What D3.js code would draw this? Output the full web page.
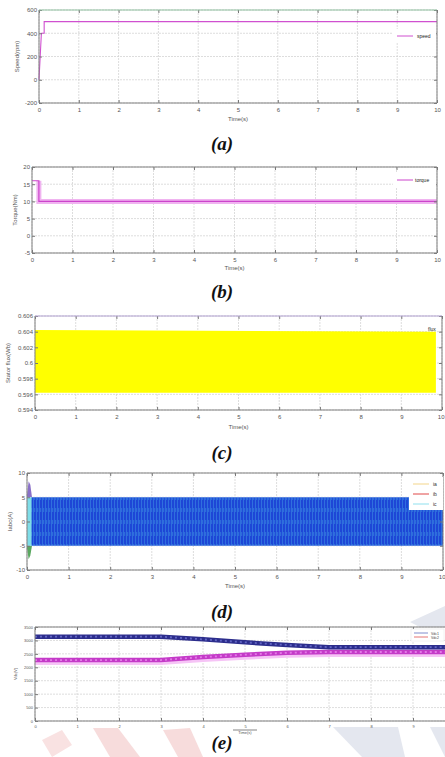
<!DOCTYPE html>
<html>
<head>
<meta charset="utf-8">
<script src="https://cdn.jsdelivr.net/npm/d3@7"></script>
<style>
  body { margin: 0; background: #fff; }
  svg { display: block; }
  text { font-family: "Liberation Sans", Arial, sans-serif; }
  .cap { font-family: "Liberation Serif", "Times New Roman", serif; font-weight: bold; font-style: italic; font-size: 19px; fill: #111; }
  .tick text { font-size: 6px; fill: #555; }
  .lbl { font-size: 6px; fill: #555; }
</style>
</head>
<body>
<svg id="chart" width="445" height="757"></svg>
<script>
// shared x ticks (time, s)
const timeTicks = [0, 1, 2, 3, 4, 5, 6, 7, 8, 9, 10];
const timeTicksE = [0, 1, 2, 3, 4, 5, 6, 7, 8, 9];

// (a) rotor speed
const speedT = [0, 0.03, 0.06, 0.13, 0.13, 10];
const speedV = [0, 200, 400, 400, 500, 500];
const speedTicks = [-200, 0, 200, 400, 600];

// (b) electromagnetic torque
const torqueT = [0, 0.02, 0.17, 0.17, 10];
const torqueV = [16, 16, 16, 10, 10];
const torqueTicks = [-5, 0, 5, 10, 15, 20];

// (c) stator flux envelope
const fluxT = [0, 9.85];
const fluxHi = [0.6042, 0.6040];
const fluxLo = [0.5962, 0.5962];
const fluxTicks = [0.594, 0.596, 0.598, 0.6, 0.602, 0.604, 0.606];

// (d) three-phase currents envelope + start transient
const iabcT = [0.11, 10];
const iabcHi = [5, 5];
const iabcLo = [-5, -5];
const transT = [0, 0.04, 0.08, 0.12];
const transHi = [5.5, 8.3, 7.6, 5];
const transLo = [-5.5, -7.8, -7, -5];
const currentTicks = [-10, -5, 0, 5, 10];
const currentNames = ['ia', 'ib', 'ic'];

// (e) two converging signals
const vdcT = [0, 1, 2, 3, 4, 5, 6, 7, 8, 9, 10];
const vdcBlue = [3140, 3140, 3140, 3140, 3040, 2930, 2830, 2750, 2750, 2750, 2750];
const vdcPink = [2270, 2270, 2270, 2270, 2380, 2470, 2540, 2570, 2570, 2570, 2570];
const vdcTicks = [0, 500, 1000, 1500, 2000, 2500, 3000, 3500];

const svg = d3.select('#chart');

// faint watermark shapes behind everything
const wm = svg.append('g');
wm.append('polygon').attr('points', '333,727 398,727 405,757 362,757').attr('fill', '#e4e7ef');
wm.append('polygon').attr('points', '410,622 445,606 445,640').attr('fill', '#e4e7ef');
wm.append('polygon').attr('points', '430,727 445,727 445,757').attr('fill', '#e4e7ef');
wm.append('polygon').attr('points', '42,740 62,730 72,745 52,757').attr('fill', '#f9e2e2');
wm.append('polygon').attr('points', '93,728 118,728 140,757 110,757').attr('fill', '#f7dcdc');
wm.append('polygon').attr('points', '163,730 190,728 203,757 178,757').attr('fill', '#f7dcdc');

function panel(o) {
  const g = svg.append('g');
  const x = d3.scaleLinear().domain([0, 10]).range([o.left, o.right]);
  const y = d3.scaleLinear().domain(o.yDomain).range([o.bottom, o.top]);
  const w = Math.min(o.right, 445) - o.left;

  g.append('rect').attr('x', o.left).attr('y', o.top)
    .attr('width', w).attr('height', o.bottom - o.top).attr('fill', '#fff');

  // grid
  g.append('g').selectAll('line').data(o.xTicks).join('line')
    .attr('x1', d => x(d)).attr('x2', d => x(d))
    .attr('y1', o.top).attr('y2', o.bottom)
    .attr('stroke', '#cfcfcf').attr('stroke-width', 0.7).attr('stroke-dasharray', '2,1');
  g.append('g').selectAll('line').data(o.yTicks).join('line')
    .attr('x1', o.left).attr('x2', o.left + w)
    .attr('y1', d => y(d)).attr('y2', d => y(d))
    .attr('stroke', '#cfcfcf').attr('stroke-width', 0.7).attr('stroke-dasharray', '2,1');

  const marks = g.append('g');

  // axes, MATLAB style inward ticks
  const ax = g.append('g');
  const bottom = ax.append('g').attr('transform', `translate(0,${o.bottom})`)
    .call(d3.axisBottom(x).tickValues(o.xTicks).tickSize(-3).tickPadding(o.xPad || 5)
      .tickFormat(o.xFormat || d3.format('d')));
  ax.append('g').attr('transform', `translate(0,${o.top})`)
    .call(d3.axisTop(x).tickValues(o.xTicks).tickSize(-3).tickFormat(''));
  ax.append('g').attr('transform', `translate(${o.left},0)`)
    .call(d3.axisLeft(y).tickValues(o.yTicks).tickSize(-3).tickPadding(2)
      .tickFormat(o.yFormat || (d => d)));
  if (o.right <= 445) {
    ax.append('g').attr('transform', `translate(${o.right},0)`)
      .call(d3.axisRight(y).tickValues(o.yTicks).tickSize(-3).tickFormat(''));
  }
  ax.selectAll('.domain').remove();
  ax.selectAll('.tick line').attr('stroke', '#777');
  if (o.tickFont) ax.selectAll('.tick text').style('font-size', o.tickFont);
  // keep a label that sits on the right edge inside the page
  bottom.selectAll('.tick text').filter(d => x(d) > 440).attr('text-anchor', 'end').attr('dx', 2);

  // frame
  const fr = g.append('g').attr('fill', 'none').attr('stroke', '#808080').attr('stroke-width', 1);
  fr.append('line').attr('x1', o.left).attr('x2', o.left).attr('y1', o.top).attr('y2', o.bottom);
  fr.append('line').attr('x1', o.left).attr('x2', o.left + w).attr('y1', o.bottom).attr('y2', o.bottom);
  fr.append('line').attr('x1', o.left).attr('x2', o.left + w).attr('y1', o.top).attr('y2', o.top)
    .attr('stroke', o.topColor || '#808080');
  if (o.right <= 445) {
    fr.append('line').attr('x1', o.right).attr('x2', o.right).attr('y1', o.top).attr('y2', o.bottom);
  }

  // labels
  g.append('text').attr('class', 'lbl').attr('text-anchor', 'middle')
    .attr('x', o.xLabelX || (o.left + o.right) / 2).attr('y', o.xLabelY)
    .style('font-size', o.tickFont || null)
    .text('Time(s)');
  g.append('text').attr('class', 'lbl').attr('text-anchor', 'middle')
    .attr('transform', `translate(${o.yLabelX},${(o.top + o.bottom) / 2}) rotate(-90)`)
    .style('font-size', o.tickFont || null)
    .text(o.yLabel);
  g.append('text').attr('class', 'cap').attr('text-anchor', 'middle')
    .attr('x', 222).attr('y', o.capY).text(o.cap);

  return { g, marks, x, y };
}

// ---------- (a) ----------
{
  const p = panel({ left: 39, right: 437, top: 10, bottom: 103, yDomain: [-200, 600],
    xTicks: timeTicks, yTicks: speedTicks, xLabelY: 121, yLabelX: 19, yLabel: 'Speed(rpm)',
    cap: '(a)', capY: 150, topColor: '#8fbf9f' });
  p.marks.append('path').datum(speedT.map((t, i) => [t, speedV[i]]))
    .attr('d', d3.line().x(d => p.x(d[0])).y(d => p.y(d[1])))
    .attr('fill', 'none').attr('stroke', '#d050d0').attr('stroke-width', 1.1);
  const lg = p.g.append('g');
  lg.append('rect').attr('x', 393).attr('y', 29).attr('width', 43).attr('height', 14).attr('fill', '#fff');
  lg.append('line').attr('x1', 397).attr('x2', 413).attr('y1', 36).attr('y2', 36)
    .attr('stroke', '#d050d0').attr('stroke-width', 1);
  lg.append('text').attr('x', 417).attr('y', 38).style('font-size', '5px').attr('fill', '#222').text('speed');
}

// ---------- (b) ----------
{
  const p = panel({ left: 32, right: 437, top: 167, bottom: 253, yDomain: [-5, 20],
    xTicks: timeTicks, yTicks: torqueTicks, xLabelY: 270, yLabelX: 17, yLabel: 'Torque(Nm)',
    cap: '(b)', capY: 298 });
  const pts = torqueT.map((t, i) => [t, torqueV[i]]);
  const line = d3.line().x(d => p.x(d[0])).y(d => p.y(d[1]));
  p.marks.append('path').datum(pts.slice(2)).attr('d', line)
    .attr('fill', 'none').attr('stroke', '#f0b4f0').attr('stroke-width', 5);
  p.marks.append('path').datum(pts).attr('d', line)
    .attr('fill', 'none').attr('stroke', '#cc44cc').attr('stroke-width', 1.2);
  const lg = p.g.append('g');
  lg.append('rect').attr('x', 393).attr('y', 173).attr('width', 43).attr('height', 14).attr('fill', '#fff');
  lg.append('line').attr('x1', 397).attr('x2', 413).attr('y1', 180).attr('y2', 180)
    .attr('stroke', '#cc44cc').attr('stroke-width', 1);
  lg.append('text').attr('x', 415).attr('y', 182).style('font-size', '5px').attr('fill', '#222').text('torque');
}

// ---------- (c) ----------
{
  const p = panel({ left: 35, right: 442, top: 316, bottom: 410, yDomain: [0.594, 0.606],
    xTicks: timeTicks, yTicks: fluxTicks, xLabelY: 429, yLabelX: 10, yLabel: 'Stator flux(Wb)',
    cap: '(c)', capY: 459, topColor: '#b0a0d0', yFormat: d => d === 0.6 ? '0.6' : d3.format('.3f')(d) });
  p.marks.append('path').datum(fluxT.map((t, i) => [t, fluxHi[i], fluxLo[i]]))
    .attr('d', d3.area().x(d => p.x(d[0])).y0(d => p.y(d[2])).y1(d => p.y(d[1])))
    .attr('fill', '#ffff00');
  p.g.append('text').attr('x', 428).attr('y', 331).style('font-size', '5px').attr('fill', '#222').text('flux');
}

// ---------- (d) ----------
{
  const p = panel({ left: 27, right: 443, top: 473, bottom: 570, yDomain: [-10, 10],
    xTicks: timeTicks, yTicks: currentTicks, xLabelY: 588, yLabelX: 12, yLabel: 'Iabc(A)',
    cap: '(d)', capY: 618 });
  const defs = svg.append('defs');
  const pat = defs.append('pattern').attr('id', 'osc').attr('patternUnits', 'userSpaceOnUse')
    .attr('width', 3).attr('height', 12);
  pat.append('rect').attr('width', 3).attr('height', 12).attr('fill', '#1d47d6');
  pat.append('rect').attr('x', 0).attr('width', 0.8).attr('height', 12).attr('fill', '#3c8fe4').attr('opacity', 0.7);
  pat.append('rect').attr('x', 1.5).attr('y', 4).attr('width', 0.6).attr('height', 4).attr('fill', '#52c0e8').attr('opacity', 0.6);

  const area = d3.area().x(d => p.x(d[0])).y0(d => p.y(d[2])).y1(d => p.y(d[1]));
  p.marks.append('path').datum(transT.map((t, i) => [t, transHi[i], 5]))
    .attr('d', area).attr('fill', '#8a70c8');
  p.marks.append('path').datum(transT.map((t, i) => [t, -5, transLo[i]]))
    .attr('d', area).attr('fill', '#5aa860');
  p.marks.append('path').datum(transT.map(t => [t, 5, -5]))
    .attr('d', area).attr('fill', '#7fdde8');
  p.marks.append('path').datum(iabcT.map((t, i) => [t, iabcHi[i], iabcLo[i]]))
    .attr('d', area).attr('fill', 'url(#osc)');

  const lg = p.g.append('g');
  lg.append('rect').attr('x', 409).attr('y', 477).attr('width', 34).attr('height', 33).attr('fill', '#fff');
  const cols = ['#f3d58a', '#e04848', '#8fe0ee'];
  currentNames.forEach((n, i) => {
    lg.append('line').attr('x1', 413).attr('x2', 429).attr('y1', 484 + i * 10).attr('y2', 484 + i * 10)
      .attr('stroke', cols[i]).attr('stroke-width', 1);
    lg.append('text').attr('x', 433).attr('y', 486 + i * 10).style('font-size', '5px').attr('fill', '#333').text(n);
  });
}

// ---------- (e) ----------
{
  const p = panel({ left: 35, right: 455, top: 627, bottom: 721, yDomain: [0, 3500],
    xTicks: timeTicksE, yTicks: vdcTicks, xLabelY: 734, xLabelX: 245, yLabelX: 17, yLabel: 'Vdc(V)',
    cap: '(e)', capY: 749, tickFont: '4px', xPad: 4 });
  const line = d3.line().x(d => p.x(d[0])).y(d => p.y(d[1]));
  const blue = vdcT.map((t, i) => [t, vdcBlue[i]]);
  const pink = vdcT.map((t, i) => [t, vdcPink[i]]);
  p.marks.append('path').datum(pink).attr('d', line).attr('transform', 'translate(0,2.5)')
    .attr('fill', 'none').attr('stroke', '#f6c4f6').attr('stroke-width', 5);
  p.marks.append('path').datum(pink).attr('d', line)
    .attr('fill', 'none').attr('stroke', '#c43ac8').attr('stroke-width', 4.5);
  p.marks.append('path').datum(pink).attr('d', line)
    .attr('fill', 'none').attr('stroke', '#e27ae6').attr('stroke-width', 1.8).attr('stroke-dasharray', '2,3');
  p.marks.append('path').datum(blue).attr('d', line)
    .attr('fill', 'none').attr('stroke', '#2c2d8c').attr('stroke-width', 4.5);
  p.marks.append('path').datum(blue).attr('d', line)
    .attr('fill', 'none').attr('stroke', '#6266c4').attr('stroke-width', 1.8).attr('stroke-dasharray', '2,3');
  p.g.append('line').attr('x1', 233).attr('x2', 257).attr('y1', 730).attr('y2', 730)
    .attr('stroke', '#666').attr('stroke-width', 0.8);

  const lg = p.g.append('g');
  lg.append('rect').attr('x', 411).attr('y', 629).attr('width', 33).attr('height', 12)
    .attr('fill', '#fff').attr('stroke', '#e4e4e4').attr('stroke-width', 0.5);
  lg.append('line').attr('x1', 414).attr('x2', 428).attr('y1', 633).attr('y2', 633).attr('stroke', '#6070c0').attr('stroke-width', 0.8);
  lg.append('line').attr('x1', 414).attr('x2', 428).attr('y1', 637).attr('y2', 637).attr('stroke', '#e05050').attr('stroke-width', 0.8);
  lg.append('text').attr('x', 431).attr('y', 634.5).style('font-size', '3.5px').attr('fill', '#444').text('Vdc1');
  lg.append('text').attr('x', 431).attr('y', 638.5).style('font-size', '3.5px').attr('fill', '#444').text('Vdc2');
}
</script>
</body>
</html>
